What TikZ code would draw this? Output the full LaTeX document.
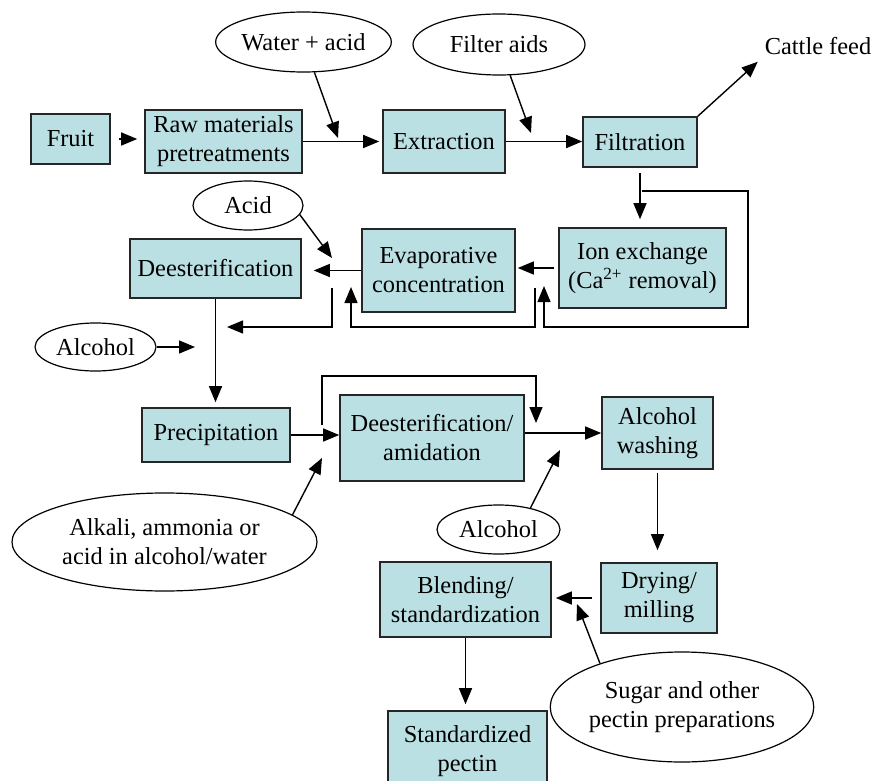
\documentclass[tikz,border=0pt]{standalone}
\usepackage{fontspec}
\setmainfont{Liberation Serif}
\usetikzlibrary{shapes.geometric,arrows.meta}
\definecolor{stagefill}{RGB}{187,224,227}

\begin{document}
\begin{tikzpicture}[
    x=0.5pt, y=-0.5pt,
    stage/.style={
      draw=black!85,
      line width=0.8pt,
      fill=stagefill,
      align=center,
      inner sep=0pt,
      font=\fontsize{12.2}{14.5}\selectfont
    },
    feed/.style={
      ellipse,
      draw,
      line width=0.6pt,
      align=center,
      inner sep=0pt,
      font=\fontsize{12.2}{14.5}\selectfont
    },
    arr/.style={
      line width=0.7pt,
      -{Triangle[length=8pt,width=6.5pt]}
    }
  ]
  \useasboundingbox (0,0) rectangle (872,781);

  % process steps
  \node[stage, minimum width=39.5pt, minimum height=25pt] (fruit) at (70.5,139) {Fruit};
  \node[stage, minimum width=78.5pt, minimum height=31.5pt] (raw) at (223.5,141.5) {Raw materials\\pretreatments};
  \node[stage, minimum width=61pt, minimum height=31.5pt] (extraction) at (444,141.5) {Extraction};
  \node[stage, minimum width=57pt, minimum height=25pt] (filtration) at (640,142) {Filtration};
  \node[stage, minimum width=83.5pt, minimum height=40pt] (ionex) at (642.5,268) {Ion exchange\\(Ca\textsuperscript{2+} removal)};
  \node[stage, minimum width=76.5pt, minimum height=41.5pt] (evap) at (438.5,270.5) {Evaporative\\concentration};
  \node[stage, minimum width=85.5pt, minimum height=29.5pt] (deest) at (215.5,268.5) {Deesterification};
  \node[stage, minimum width=74pt, minimum height=27pt] (precip) at (216,435) {Precipitation};
  \node[stage, minimum width=92pt, minimum height=43pt] (amid) at (432,438) {Deesterification/\\amidation};
  \node[stage, minimum width=55.5pt, minimum height=36pt] (washing) at (657.5,433) {Alcohol\\washing};
  \node[stage, minimum width=58pt, minimum height=35pt] (drying) at (659,598) {Drying/\\milling};
  \node[stage, minimum width=85.5pt, minimum height=37.5pt] (blending) at (465.5,599.5) {Blending/\\standardization};
  \node[stage, minimum width=79.5pt, minimum height=40pt] (stdpectin) at (467.5,751) {Standardized\\pectin};

  % additions
  \node[feed, minimum width=85.5pt, minimum height=30pt] (water) at (303.5,42) {Water + acid};
  \node[feed, minimum width=86pt, minimum height=30.5pt] (filteraids) at (499,44.5) {Filter aids};
  \node[feed, minimum width=55pt, minimum height=24.5pt] (acid) at (248,205.5) {Acid};
  \node[feed, minimum width=60.5pt, minimum height=24pt] (alcA) at (95.5,347) {Alcohol};
  \node[feed, minimum width=152.5pt, minimum height=49pt] (alkali) at (164.5,542) {Alkali, ammonia or\\acid in alcohol/water};
  \node[feed, minimum width=61.5pt, minimum height=24.5pt] (alcB) at (498.5,529.5) {Alcohol};
  \node[feed, minimum width=122pt, minimum height=55pt] (sugar) at (682,707) {Sugar and other\\pectin preparations};
  \node[font=\fontsize{12.2}{14.5}\selectfont] (cattle) at (818,46) {Cattle feed};

  % free ends
  \coordinate (wtip) at (338,138);
  \coordinate (ftip) at (531,133);
  \coordinate (fbranch) at (642,191);
  \coordinate (ltipA) at (544,286);
  \coordinate (lpB) at (535,288);
  \coordinate (ltipB) at (351,287);
  \coordinate (atip) at (332,258);
  \coordinate (lpC) at (332,288);
  \coordinate (ctip) at (227,327);
  \coordinate (alctipA) at (195,347);
  \coordinate (lpD) at (322,425);
  \coordinate (ltipD) at (536,423);
  \coordinate (ktip) at (322,458);
  \coordinate (btip) at (560,450);
  \coordinate (stip) at (577,604);

  % main line
  \draw[arr, shorten <=4pt, shorten >=3.5pt] (fruit.east) -- (fruit.east -| raw.west);
  \draw[arr, shorten >=1.5pt] (raw.east) -- (raw.east -| extraction.west);
  \draw[arr] (extraction.east) -- (extraction.east -| filtration.west);
  \draw[arr] (filtration.north east) -- (cattle.south west);
  \draw[arr, shorten <=2.5pt, shorten >=4pt] (filtration.south) -- (filtration.south |- ionex.north);
  \draw[arr] (fbranch) -- ++(53pt,0) -- ++(0,-68pt) -| (ltipA);
  \draw[arr, shorten <=2pt, shorten >=1pt] (ionex.west) -- (ionex.west -| evap.east);
  \draw[arr] (lpB) -- ++(0,-19.5pt) -| (ltipB);
  \draw[arr, shorten >=6pt] (evap.west) -- (evap.west -| deest.east);
  \draw[arr] (lpC) |- (ctip);
  \draw[arr, shorten >=2.5pt] (deest.south) -- (deest.south |- precip.north);
  \draw[arr] (precip.east) -- (precip.east -| amid.west);
  \draw[arr] (lpD) -- ++(0,24.5pt) -| (ltipD);
  \draw[arr] (washing.west -| amid.east) -- (washing.west);
  \draw[arr, shorten <=1.5pt, shorten >=6pt] (washing.south) -- (washing.south |- drying.north);
  \draw[arr, shorten <=4pt, shorten >=2pt] (drying.west) -- (drying.west -| blending.east);
  \draw[arr, shorten >=3pt] (blending.south) -- (blending.south |- stdpectin.north);

  % additions in
  \draw[arr] (water) -- (wtip);
  \draw[arr] (filteraids) -- (ftip);
  \draw[arr] (acid.-10) -- (atip);
  \draw[arr] (alcA) -- (alctipA);
  \draw[arr] (alkali.12) -- (ktip);
  \draw[arr] (alcB.34) -- (btip);
  \draw[arr] (sugar.152) -- (stip);
\end{tikzpicture}
\end{document}
